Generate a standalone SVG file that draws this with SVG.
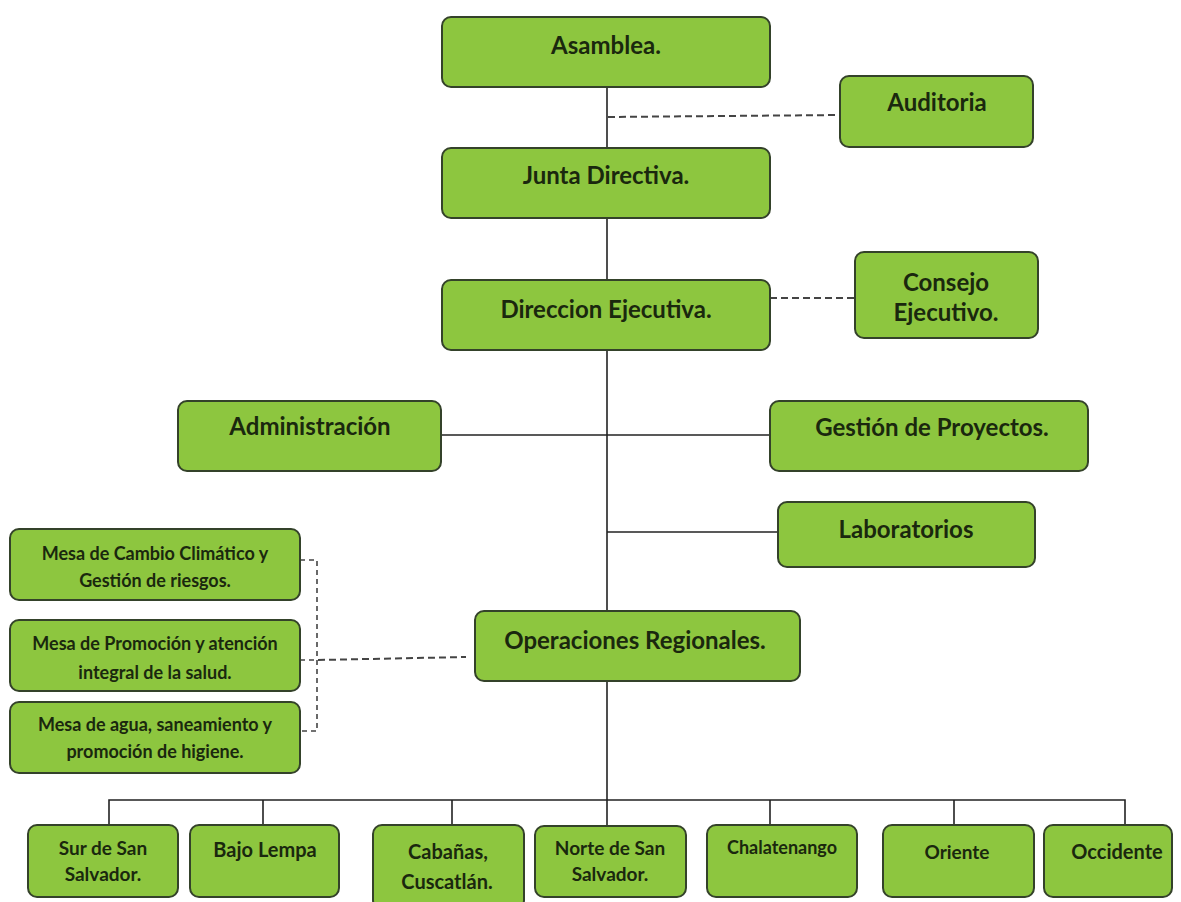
<svg xmlns="http://www.w3.org/2000/svg" width="1181" height="902" viewBox="0 0 1181 902">
<style>
.box{fill:#8dc63f;stroke:#34422a;stroke-width:2}
.t{font-family:Lato,"Liberation Sans",sans-serif;font-weight:bold;fill:#1a280e;text-anchor:middle}
.l{font-size:24px}
.s{font-size:18px}
.r{font-size:19px}
.m{font-size:20px}
.ln{stroke:#222;stroke-width:1.6;fill:none}
.ds{stroke:#444;stroke-width:2;stroke-dasharray:7,4;fill:none}
</style>
<rect width="1181" height="902" fill="#fff"/>
<g id="connectors">
<line class="ln" x1="607" y1="87" x2="607" y2="148"/>
<line class="ln" x1="607" y1="218" x2="607" y2="280"/>
<line class="ln" x1="607" y1="350" x2="607" y2="611"/>
<line class="ln" x1="607" y1="681" x2="607" y2="826"/>
<line class="ln" x1="441" y1="435" x2="770" y2="435"/>
<line class="ln" x1="607" y1="532" x2="778" y2="532"/>
<line class="ds" x1="608" y1="117" x2="840" y2="115"/>
<line class="ds" x1="770" y1="298" x2="855" y2="298"/>
<line class="ds" x1="318" y1="660" x2="466" y2="657"/>
<path class="ds" d="M300 560 H317 V731 H300 M300 660 H317" style="stroke-width:1.6;stroke-dasharray:5,4"/>
<path class="ln" d="M109 825 V800 H1125 V825 M263 800 V825 M452 800 V825 M770 800 V825 M954 800 V825"/>
</g>
<g id="asamblea"><rect class="box" x="442" y="17" width="328" height="70" rx="9"/><text class="t l" x="606" y="54">Asamblea.</text></g>
<g id="auditoria"><rect class="box" x="840" y="76" width="193" height="71" rx="9"/><text class="t l" x="937" y="111">Auditoria</text></g>
<g id="junta"><rect class="box" x="442" y="148" width="328" height="70" rx="9"/><text class="t l" x="606" y="184">Junta Directiva.</text></g>
<g id="direccion"><rect class="box" x="442" y="280" width="328" height="70" rx="9"/><text class="t l" x="606" y="318">Direccion Ejecutiva.</text></g>
<g id="consejo"><rect class="box" x="855" y="252" width="183" height="86" rx="9"/><text class="t l" x="946" y="291">Consejo</text><text class="t l" x="946" y="321">Ejecutivo.</text></g>
<g id="administracion"><rect class="box" x="178" y="401" width="263" height="70" rx="9"/><text class="t l" x="310" y="435">Administración</text></g>
<g id="gestion"><rect class="box" x="770" y="401" width="318" height="70" rx="9"/><text class="t l" x="932" y="436">Gestión de Proyectos.</text></g>
<g id="laboratorios"><rect class="box" x="778" y="502" width="257" height="65" rx="9"/><text class="t l" x="906" y="538">Laboratorios</text></g>
<g id="operaciones"><rect class="box" x="475" y="611" width="325" height="70" rx="9"/><text class="t l" x="635" y="649">Operaciones Regionales.</text></g>
<g id="mesa1"><rect class="box" x="10" y="529" width="290" height="71" rx="9"/><text class="t s" x="155" y="560">Mesa de Cambio Climático y</text><text class="t s" x="155" y="587">Gestión de riesgos.</text></g>
<g id="mesa2"><rect class="box" x="10" y="620" width="290" height="71" rx="9"/><text class="t s" x="155" y="650">Mesa de Promoción y atención</text><text class="t s" x="155" y="679">integral de la salud.</text></g>
<g id="mesa3"><rect class="box" x="10" y="702" width="290" height="71" rx="9"/><text class="t s" x="155" y="731">Mesa de agua, saneamiento y</text><text class="t s" x="155" y="758">promoción de higiene.</text></g>
<g id="sur"><rect class="box" x="28" y="825" width="150" height="72" rx="9"/><text class="t r" x="103" y="855">Sur de San</text><text class="t r" x="103" y="881">Salvador.</text></g>
<g id="bajo"><rect class="box" x="190" y="825" width="149" height="72" rx="9"/><text class="t m" x="265" y="857">Bajo Lempa</text></g>
<g id="cabanas"><rect class="box" x="373" y="825" width="151" height="84" rx="9"/><text class="t m" x="448" y="859">Cabañas,</text><text class="t m" x="447" y="889">Cuscatlán.</text></g>
<g id="norte"><rect class="box" x="535" y="826" width="151" height="71" rx="9"/><text class="t r" x="610" y="855">Norte de San</text><text class="t r" x="610" y="881">Salvador.</text></g>
<g id="chalatenango"><rect class="box" x="707" y="825" width="150" height="72" rx="9"/><text class="t s" x="782" y="854">Chalatenango</text></g>
<g id="oriente"><rect class="box" x="883" y="825" width="151" height="72" rx="9"/><text class="t r" x="957" y="859">Oriente</text></g>
<g id="occidente"><rect class="box" x="1044" y="825" width="128" height="72" rx="9"/><text class="t m" x="1117" y="859">Occidente</text></g>
</svg>
